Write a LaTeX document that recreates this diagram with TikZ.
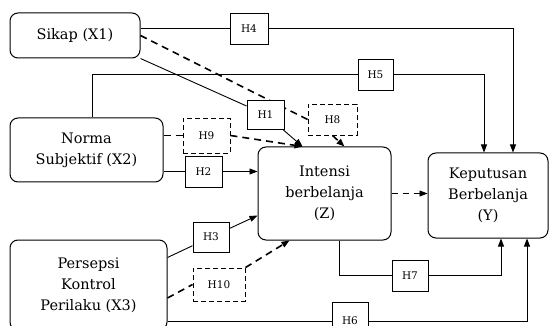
\documentclass[tikz,border=0pt]{standalone}
\usepackage{fontspec}
\setmainfont{DejaVu Serif}
\usetikzlibrary{arrows.meta, backgrounds}

\begin{document}
\begin{tikzpicture}[
x=1pt, y=-1pt,
varnode/.style={
rectangle,
draw,
rounded corners=8pt,
line width=1pt,
align=center,
inner sep=0 pt,
font=\fontsize{14.5}{21}\selectfont,
},
hnode/.style={
rectangle,
draw,
fill=white,
line width=0.9pt,
minimum width=36pt,
minimum height=31pt,
inner sep=0 pt,
font=\fontsize{10.5}{12}\selectfont,
},
hdash/.style={hnode, dash pattern=on 5pt off 3pt},
solidline/.style={line width=0.9pt},
dashline/.style={line width=1.6pt, dash pattern=on 7pt off 5pt},
pointed/.style={-{Triangle[length=8pt, width=6pt]}},
]
\useasboundingbox (0,0) rectangle (552,326);

% variable boxes
\node [varnode, minimum width=130pt, minimum height=45pt] at (75,35.5) (sikap)
{Sikap (X1)};
\node [varnode, minimum width=153pt, minimum height=64pt] at (86.5,150) (norma)
{Norma\\Subjektif (X2)};
\node [varnode, minimum width=157pt, minimum height=90pt] at (88.5,285) (persepsi)
{Persepsi\\Kontrol\\Perilaku (X3)};
\node [varnode, minimum width=133pt, minimum height=93pt] at (324.5,193.5) (intensi)
{Intensi\\berbelanja\\(Z)};
\node [varnode, minimum width=120pt, minimum height=85pt] at (488,195.5) (keputusan)
{Keputusan\\Berbelanja\\(Y)};

% hypothesis boxes
\node [hnode, minimum width=38pt] at (249,28.5) (h4) {H4};
\node [hnode, minimum width=35pt] at (375.5,74.5) (h5) {H5};
\node [hnode, minimum width=37pt, minimum height=29pt] at (265.5,114.5) (h1) {H1};
\node [hdash, minimum width=49pt] at (332.5,119.5) (h8) {H8};
\node [hdash, minimum width=47pt, minimum height=35pt] at (206.5,135.5) (h9) {H9};
\node [hnode, minimum width=37pt] at (203.5,171.5) (h2) {H2};
\node [hnode, minimum height=30pt] at (211,237) (h3) {H3};
\node [hdash, minimum width=52pt, minimum height=33pt] at (219,284.5) (h10) {H10};
\node [hnode] at (410,275.5) (h7) {H7};
\node [hnode, minimum height=38pt] at (350,321) (h6) {H6};

% connector ends
\coordinate (k4) at ([xshift=25pt]keputusan.north);
\coordinate (k5) at ([xshift=-4pt]keputusan.north);
\coordinate (k7) at ([xshift=13pt]keputusan.south);
\coordinate (k6) at ([xshift=39pt]keputusan.south);
\coordinate (z1) at ([xshift=-22pt]intensi.north);
\coordinate (z8) at ([xshift=20pt]intensi.north);
\coordinate (z3) at ([yshift=-22pt]intensi.west);
\coordinate (z10) at ([xshift=-35pt]intensi.south);
\coordinate (z7) at ([xshift=14.5pt]intensi.south);
\coordinate (n5) at ([xshift=5.5pt]norma.north);
\coordinate (p3) at ([yshift=-18pt]persepsi.north east);
\coordinate (p10) at ([yshift=-13pt]persepsi.east);
\coordinate (p6) at ([yshift=-36pt]persepsi.east);

\begin{scope}[on background layer]
% direct effects
\draw [solidline] (sikap.east |- h4) -- (h4.west);
\draw [solidline, pointed] (h4.east) -| (k4);
\draw [solidline] (n5) |- (h5.west);
\draw [solidline, pointed] (h5.east) -| (k5);
\draw [solidline] (sikap.south east) -- (h1);
\draw [solidline, pointed] (h1) -- (z1);
\draw [solidline] (norma.east |- h2) -- (h2.west);
\draw [solidline, pointed] (h2.east) -- (intensi.west |- h2);
\draw [solidline] (p3) -- (h3);
\draw [solidline, pointed] (h3) -- (z3);
\draw [solidline] (z7) |- (h7.west);
\draw [solidline, pointed] (h7.east) -| (k7);
\draw [solidline] (p6) -- (h6.west);
\draw [solidline, pointed] (h6.east) -| (k6);

% mediated effects
\draw [dashline] (sikap.east) -- (h8.west);
\draw [dashline, pointed] (h8.south) -- (z8);
\draw [dashline] (norma.east |- h9) -- (h9.west);
\draw [dashline, pointed] (h9.east) -- (z1);
\draw [dashline] (p10) -- (h10.west);
\draw [dashline, pointed] (h10.north east) -- (z10);
\draw [solidline, dash pattern=on 6pt off 5pt, pointed]
(intensi.east) -- (keputusan.west |- intensi.east);
\end{scope}

\end{tikzpicture}
\end{document}
